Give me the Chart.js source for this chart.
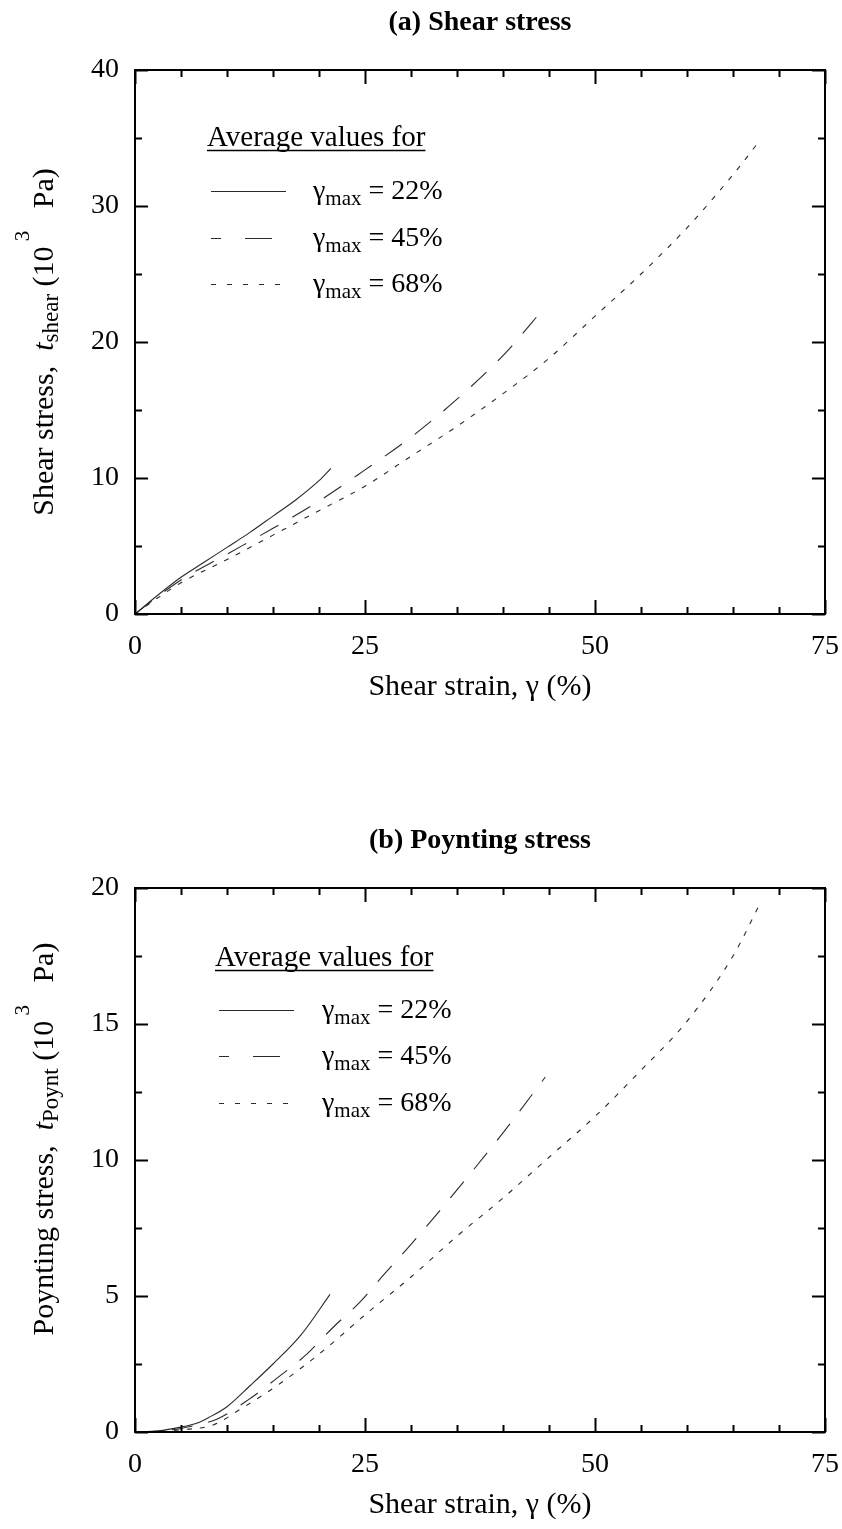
<!DOCTYPE html>
<html>
<head>
<meta charset="utf-8">
<script src="https://cdn.jsdelivr.net/npm/chart.js@4/dist/chart.umd.min.js"></script>
<style>
    body { margin: 0; background: #fff; width: 842px; height: 1529px; position: relative; }
    .panel { position: absolute; left: 0; width: 842px; height: 711px; }
</style>
</head>
<body>
<div class="panel" style="top:0"><canvas id="ChartShear" width="842" height="711"></canvas></div>
<div class="panel" style="top:818px"><canvas id="ChartPoynting" width="842" height="711"></canvas></div>

<script>
// shear strain, gamma (%) and stresses in 10^3 Pa, averaged per gamma_max
const shearX22 = [0, 2.5, 5, 7.5, 10, 12.5, 15, 17.5, 20, 21.3];
const shearY22 = [0, 1.4, 2.7, 3.8, 4.9, 6.0, 7.2, 8.4, 9.8, 10.7];
const shearX45 = [0, 2.5, 5, 10, 15, 20, 25, 30, 35, 40, 44.6];
const shearY45 = [0, 1.3, 2.5, 4.4, 6.3, 8.3, 10.6, 13.0, 15.8, 19.0, 22.6];
const shearX68 = [0, 2.5, 5, 10, 15, 20, 25, 30, 35, 40, 45, 50, 55, 60, 65, 67.9];
const shearY68 = [0, 1.2, 2.3, 4.0, 5.8, 7.6, 9.4, 11.6, 13.8, 16.2, 18.8, 21.9, 25.0, 28.4, 32.3, 34.8];

const poyntX22 = [0, 2.5, 5, 6.7, 8, 10, 12.5, 15, 18, 21.2];
const poyntY22 = [0, 0.04, 0.18, 0.32, 0.53, 0.93, 1.7, 2.5, 3.55, 5.06];
const poyntX45 = [0, 2.5, 5, 7, 8.9, 12.3, 15.4, 18.7, 21.6, 24.5, 26.6, 30, 35, 40, 44.6];
const poyntY45 = [0, 0.03, 0.13, 0.28, 0.47, 1.18, 1.97, 2.87, 3.87, 4.79, 5.61, 6.9, 8.9, 11.0, 13.05];
const poyntX68 = [0, 2.5, 5, 8.5, 11.6, 15.8, 20.1, 25.4, 30, 35, 40, 45, 50, 55, 60, 65, 67.9];
const poyntY68 = [0, 0.02, 0.08, 0.26, 0.87, 1.79, 2.89, 4.42, 5.7, 7.2, 8.6, 10.1, 11.6, 13.3, 15.1, 17.5, 19.4];

const gammaMax = ['22%', '45%', '68%'];
const strainLabels = [0, 25, 50, 75];
const shearLabels = [0, 10, 20, 30, 40];
const poyntLabels = [0, 5, 10, 15, 20];

const SERIF = '"Liberation Serif", "Times New Roman", serif';
const dashes = [[], [21, 16], [5, 8]];

function pts(xs, ys) {
    return xs.map((x, i) => ({ x: x, y: ys[i] }));
}

function curve(label, data, i) {
    return {
        label: label,
        data: data,
        borderColor: '#2a2a2a',
        borderWidth: 1.1,
        borderDash: dashes[i],
        pointRadius: 0,
        fill: false,
        cubicInterpolationMode: 'monotone'
    };
}

// y title pieces: [text, font, baseline shift]
function stressTitle(name, sub) {
    return [
        [name + ',  ', '30px ' + SERIF, 0],
        ['t', 'italic 30px ' + SERIF, 0],
        [sub, '23px ' + SERIF, 5],
        [' (10', '30px ' + SERIF, 0],
        [' 3', '21px ' + SERIF, -24],
        ['   Pa)', '30px ' + SERIF, 0]
    ];
}

// title, frame, inward ticks, rotated y title, legend
const decor = {
    id: 'decor',
    afterDraw(chart, args, opts) {
        const { ctx, chartArea: a, scales: { x, y } } = chart;
        ctx.save();
        ctx.fillStyle = '#000';
        ctx.font = 'bold 28px ' + SERIF;
        ctx.textAlign = 'center';
        ctx.textBaseline = 'middle';
        ctx.fillText(opts.title, opts.titleX, 23);

        ctx.strokeStyle = '#000';
        ctx.lineWidth = 2;
        ctx.lineCap = 'butt';
        ctx.strokeRect(a.left, a.top, a.right - a.left, a.bottom - a.top);

        ctx.beginPath();
        x.ticks.forEach(t => {
            const px = Math.round(x.getPixelForValue(t.value)) + 0.5;
            const len = t.label !== '' ? 14 : 7;
            ctx.moveTo(px, a.bottom); ctx.lineTo(px, a.bottom - len);
            ctx.moveTo(px, a.top); ctx.lineTo(px, a.top + len);
        });
        y.ticks.forEach(t => {
            const py = Math.round(y.getPixelForValue(t.value)) + 0.5;
            const len = t.label !== '' ? 13 : 7;
            ctx.moveTo(a.left, py); ctx.lineTo(a.left + len, py);
            ctx.moveTo(a.right, py); ctx.lineTo(a.right - len, py);
        });
        ctx.stroke();

        ctx.textBaseline = 'alphabetic';
        ctx.textAlign = 'left';
        const runs = opts.yTitle;
        let total = 0;
        runs.forEach(r => { ctx.font = r[1]; total += ctx.measureText(r[0]).width; });
        ctx.translate(opts.yTitleX, opts.yTitleY);
        ctx.rotate(-Math.PI / 2);
        let cx = -total / 2;
        runs.forEach(r => {
            ctx.font = r[1];
            ctx.fillText(r[0], cx, r[2]);
            cx += ctx.measureText(r[0]).width;
        });
        ctx.setTransform(1, 0, 0, 1, 0, 0);

        // legend
        const lx = opts.legendX;
        ctx.font = '29px ' + SERIF;
        ctx.textBaseline = 'middle';
        ctx.fillText('Average values for', lx - 4, opts.headY);
        const hw = ctx.measureText('Average values for').width;
        ctx.lineWidth = 1.3;
        ctx.beginPath();
        ctx.moveTo(lx - 4, opts.headY + 12.5);
        ctx.lineTo(lx - 4 + hw, opts.headY + 12.5);
        ctx.stroke();

        chart.data.datasets.forEach((ds, i) => {
            const ry = opts.rowY[i];
            ctx.strokeStyle = ds.borderColor;
            ctx.lineWidth = 1.1;
            ctx.setLineDash(opts.legendDash[i]);
            ctx.lineDashOffset = opts.legendOffset[i];
            ctx.beginPath();
            ctx.moveTo(lx, ry + 0.5);
            ctx.lineTo(lx + 75, ry + 0.5);
            ctx.stroke();
            ctx.setLineDash([]);

            let tx = opts.textX;
            ctx.textBaseline = 'alphabetic';
            const base = ry + 8;
            ctx.font = '28px ' + SERIF;
            ctx.fillText('\u03b3', tx, base);
            tx += ctx.measureText('\u03b3').width;
            ctx.font = '21px ' + SERIF;
            ctx.fillText('max', tx, base + 6);
            tx += ctx.measureText('max').width;
            ctx.font = '28px ' + SERIF;
            ctx.fillText(' = ' + ds.label, tx, base);
        });
        ctx.restore();
    }
};

function makeChart(id, ymax, ystep, ymajor, datasets, panel) {
    return new Chart(document.getElementById(id), {
        type: 'line',
        data: { datasets: datasets },
        options: {
            responsive: false,
            devicePixelRatio: 1,
            animation: false,
            layout: { padding: { left: 0, right: 17, top: 70, bottom: 0 } },
            plugins: {
                legend: { display: false },
                tooltip: { enabled: false },
                decor: panel
            },
            scales: {
                x: {
                    type: 'linear',
                    min: 0,
                    max: 75,
                    grid: { display: false, drawTicks: false },
                    border: { display: false },
                    ticks: {
                        stepSize: 5,
                        autoSkip: false,
                        maxRotation: 0,
                        color: '#000',
                        padding: 16,
                        font: { family: SERIF, size: 28 },
                        callback: v => strainLabels.includes(v) ? String(v) : ''
                    },
                    title: {
                        display: true,
                        text: 'Shear strain, \u03b3 (%)',
                        color: '#000',
                        font: { family: SERIF, size: 30 },
                        padding: { top: 0, bottom: 6 }
                    },
                    afterFit: s => {
                        s.height = 97;
                        s.paddingLeft = 0;
                        s.paddingRight = 0;
                    }
                },
                y: {
                    type: 'linear',
                    min: 0,
                    max: ymax,
                    grid: { display: false, drawTicks: false },
                    border: { display: false },
                    ticks: {
                        stepSize: ystep,
                        autoSkip: false,
                        color: '#000',
                        padding: 16,
                        font: { family: SERIF, size: 28 },
                        callback: v => ymajor.includes(v) ? String(v) : ''
                    },
                    afterFit: s => { s.width = 135; }
                }
            }
        },
        plugins: [decor]
    });
}

makeChart('ChartShear', 40, 5, shearLabels, [
    curve(gammaMax[0], pts(shearX22, shearY22), 0),
    curve(gammaMax[1], pts(shearX45, shearY45), 1),
    curve(gammaMax[2], pts(shearX68, shearY68), 2)
], {
    title: '(a) Shear stress', titleX: 480,
    yTitle: stressTitle('Shear stress', 'shear'),
    yTitleX: 53, yTitleY: 342,
    legendX: 211, headY: 138, rowY: [191, 238, 284], textX: 313,
    legendDash: [[], [27, 24], [5, 11]], legendOffset: [0, 17, 0]
});

makeChart('ChartPoynting', 20, 2.5, poyntLabels, [
    curve(gammaMax[0], pts(poyntX22, poyntY22), 0),
    curve(gammaMax[1], pts(poyntX45, poyntY45), 1),
    curve(gammaMax[2], pts(poyntX68, poyntY68), 2)
], {
    title: '(b) Poynting stress', titleX: 480,
    yTitle: stressTitle('Poynting stress', 'Poynt'),
    yTitleX: 53, yTitleY: 321,
    legendX: 219, headY: 140, rowY: [192, 238, 285], textX: 322,
    legendDash: [[], [27, 24], [5, 11]], legendOffset: [0, 17, 0]
});
</script>
</body>
</html>
